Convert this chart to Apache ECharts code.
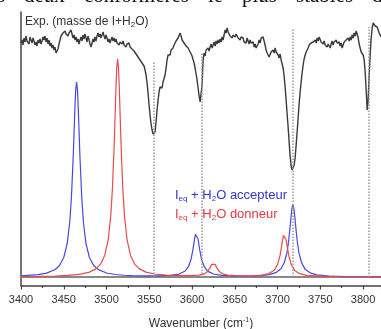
<!DOCTYPE html>
<html><head><meta charset="utf-8">
<script src="https://cdn.jsdelivr.net/npm/echarts@6/dist/echarts.min.js"></script>
<style>html,body{margin:0;padding:0;background:#fff;overflow:hidden}#c{width:381px;height:329px;}</style>
</head><body><div id="c"></div>
<script>
// Axis settings (cm-1)
const xMin = 3400, xMax = 3821, xInterval = 50;
const yMin = -8.5, yMax = 265;

// Experimental spectrum (sampled every expStep cm-1 starting at expStart)
const expStart = 3400, expStep = 1.17;
const expIntensity = [
234,237,232,239,235,241,236,238,233,240,237,234,239,236,232,235,231,237,234,238,
233,236,240,237,241,235,239,233,237,231,234,229,232,227,230,224,222,228,233,237,
241,239,244,242,246,243,245,241,244,242,247,243,239,242,237,240,235,238,233,237,
240,236,242,238,243,239,235,241,237,233,230,234,238,235,240,236,241,244,240,243,
239,242,245,241,238,242,239,235,238,234,237,240,236,239,235,238,234,236,232,235,
237,233,236,232,234,230,233,231,234,230,232,228,230,226,228,223,225,220,222,217,
219,214,215,211,207,202,194,184,172,162,153,147,143,142,145,155,167,177,185,190,
192,189,195,197,202,209,217,222,224,222,227,225,229,232,230,236,234,239,241,244,
241,237,239,234,235,231,233,229,230,225,227,221,219,214,209,203,197,189,181,175,
174,192,217,224,221,227,225,229,226,230,233,229,232,235,231,236,233,237,234,238,
235,240,237,242,247,244,249,245,247,241,243,239,242,244,240,243,244,239,241,237,
240,238,239,235,237,234,239,236,233,237,234,232,235,230,233,229,230,233,237,234,
239,241,240,236,232,227,224,222,220,222,225,223,227,224,229,225,227,222,219,223,
217,215,209,201,190,177,163,150,135,121,111,107,108,112,119,132,145,159,173,185,
195,204,212,218,222,225,227,229,232,230,234,232,235,233,237,234,239,236,240,238,
235,237,233,236,232,234,230,233,231,229,233,236,232,235,233,237,234,232,235,231,
234,229,232,235,233,237,235,239,236,240,237,242,239,244,241,246,243,239,233,229,
225,227,222,217,205,187,167,177,202,222,239,249,254,253,251,249,250,247,244,242,
240
];

// Calculated spectrum: I_eq + H2O accepteur
const blueWavenumber = [3400,3420,3430,3440,3445,3450,3454,3457,3459,3461,3462,3463,3464,3465,3466,3467,3468,3469,3471,3473,3476,3480,3485,3490,3500,3510,3520,3530,3545,3560,3575,3585,3592,3596,3599,3601,3603,3604,3605,3606,3607,3609,3611,3614,3618,3625,3635,3650,3665,3680,3690,3698,3704,3708,3711,3713,3715,3716,3717,3718,3719,3720,3721,3723,3725,3728,3732,3738,3746,3760,3780,3800,3821];
const blueIntensity = [1.2,2.4,3.9,7.5,11.5,19.5,33.4,54.8,80,119,143,168,187.6,195,187.6,168,143,119,80,54.8,33.4,19.5,11.5,7.6,4.0,2.5,1.75,1.35,1.06,1.08,1.6,2.95,6.0,10.7,18.3,27.1,38.2,42.6,44.3,42.6,38.2,27.1,18.3,10.8,5.9,3.0,1.6,1.0,1.0,1.45,2.4,4.3,8.2,14.5,24.3,36,52.9,62,69.3,72,69.3,62,52.9,36,24.3,14.5,8.1,4.2,2.2,1.0,0.47,0.27,0.17];

// Calculated spectrum: I_eq + H2O donneur
const redWavenumber = [3400,3420,3440,3455,3470,3480,3488,3493,3498,3502,3505,3507,3509,3510,3511,3512,3513,3514,3515,3516,3517,3519,3521,3524,3528,3533,3538,3546,3556,3570,3585,3598,3608,3614,3618,3621,3623,3625,3627,3629,3632,3636,3642,3655,3670,3682,3690,3696,3700,3703,3705,3706,3707,3708,3709,3710,3711,3713,3716,3720,3726,3734,3750,3770,3800,3821];
const redIntensity = [0.43,0.63,1.02,1.6,2.9,4.9,8.4,12.8,21.8,37.3,61.3,89.4,133,160,188,209.7,218,209.7,188,160,133,89.4,61.3,37.3,21.8,12.8,8.4,4.9,3.0,1.8,1.3,1.3,1.8,3.05,5.3,9.1,12.7,14.6,12.7,9.1,5.4,3.1,1.8,1.1,1.2,1.9,3.4,6.7,12.4,21.8,31.8,37.3,41.6,43.2,41.6,37.3,31.8,21.8,12.4,6.6,3.3,1.7,0.8,0.45,0.25,0.2];

// Assigned experimental bands (dotted guides)
const bandPositions = [3555.6, 3611, 3717.8, 3806.7];
const bandTops = [215, 224, 249, 250];

// Cropped line of the surrounding document text (justified words)
const captionWords = ['s', 'deux', 'conformères', 'le', 'plus', 'stables', 'd'];
const captionLeft = [-3, 24, 84, 208, 242, 296, 372];

const FONT = 'Liberation Sans, Arial, sans-serif';
const chart = echarts.init(document.getElementById('c'), null, {renderer: 'canvas'});

const expData = expIntensity.map((v, i) => [expStart + i * expStep, v]);
const blueData = blueWavenumber.map((w, i) => [w, blueIntensity[i]]);
const redData = redWavenumber.map((w, i) => [w, redIntensity[i]]);
const bandLines = bandPositions.map((w, i) => [{coord: [w, 0]}, {coord: [w, bandTops[i]]}]);

const captionTitles = captionWords.map((w, i) => ({
  text: w, left: captionLeft[i], top: -14, padding: 0,
  textStyle: {fontFamily: 'Liberation Serif, Times New Roman, serif', fontSize: 21, fontWeight: 'normal', color: '#111', lineHeight: 21}
}));

chart.setOption({
  animation: false,
  backgroundColor: '#fff',
  title: captionTitles.concat([
    {text: 'Exp. (masse de I+H{s|2}O)', left: 25, top: 15, padding: 0,
     textStyle: {fontFamily: FONT, fontSize: 12, fontWeight: 'normal', color: '#333', lineHeight: 14,
       rich: {s: {fontFamily: FONT, fontSize: 8, color: '#333', lineHeight: 8, verticalAlign: 'bottom'}}}},
    {text: 'I{s|eq} + H{s|2}O accepteur', left: 175, top: 188, padding: 0,
     textStyle: {fontFamily: FONT, fontSize: 13, fontWeight: 'normal', color: '#3434c8', lineHeight: 15,
       rich: {s: {fontFamily: FONT, fontSize: 8, color: '#3434c8', lineHeight: 8, verticalAlign: 'bottom'}}}},
    {text: 'I{s|eq} + H{s|2}O donneur', left: 175, top: 207, padding: 0,
     textStyle: {fontFamily: FONT, fontSize: 13, fontWeight: 'normal', color: '#e03a3e', lineHeight: 15,
       rich: {s: {fontFamily: FONT, fontSize: 8, color: '#e03a3e', lineHeight: 8, verticalAlign: 'bottom'}}}}
  ]),
  grid: {left: 21, right: 0, top: 12, bottom: 43.5, containLabel: false, outerBoundsMode: 'none'},
  xAxis: [
    {type: 'value', min: xMin, max: xMax, interval: xInterval, position: 'bottom',
     name: 'Wavenumber (cm{sup|-1})', nameLocation: 'middle', nameGap: 31,
     nameTextStyle: {fontFamily: FONT, fontSize: 12, color: '#333', lineHeight: 14,
       rich: {sup: {fontFamily: FONT, fontSize: 7, color: '#333', lineHeight: 7, verticalAlign: 'top'}}},
     axisLine: {show: true, onZero: false, lineStyle: {color: '#444', width: 1.5}},
     axisTick: {show: true, inside: false, length: 4, lineStyle: {color: '#444', width: 1.2}},
     minorTick: {show: true, splitNumber: 2, length: 2.5, lineStyle: {color: '#444', width: 1.2}},
     axisLabel: {show: true, margin: 9, fontFamily: FONT, fontSize: 11, color: '#333',
       formatter: v => (v % xInterval === 0 ? String(v) : '')},
     splitLine: {show: false}},
    {type: 'value', min: xMin, max: xMax, position: 'top',
     axisLine: {show: true, lineStyle: {color: '#888', width: 2}},
     axisTick: {show: false}, axisLabel: {show: false}, splitLine: {show: false}}
  ],
  yAxis: {type: 'value', min: yMin, max: yMax,
    axisLine: {show: true, onZero: false, lineStyle: {color: '#444', width: 1.5}},
    axisTick: {show: false}, axisLabel: {show: false}, splitLine: {show: false}},
  series: [
    {type: 'line', name: 'bands', data: [], symbol: 'none', silent: true,
     markLine: {silent: true, symbol: ['none', 'none'], label: {show: false},
       lineStyle: {color: '#9a9a9a', width: 1.5, type: [1.5, 1.5]}, data: bandLines}},
    {type: 'line', name: 'Exp.', data: expData, symbol: 'none',
     lineStyle: {color: '#3a3a3a', width: 1.4}},
    {type: 'line', name: 'accepteur', data: blueData, symbol: 'none',
     lineStyle: {color: '#4848dc', width: 1.2}},
    {type: 'line', name: 'donneur', data: redData, symbol: 'none',
     lineStyle: {color: '#e84a4e', width: 1.2}}
  ]
});
</script></body></html>
